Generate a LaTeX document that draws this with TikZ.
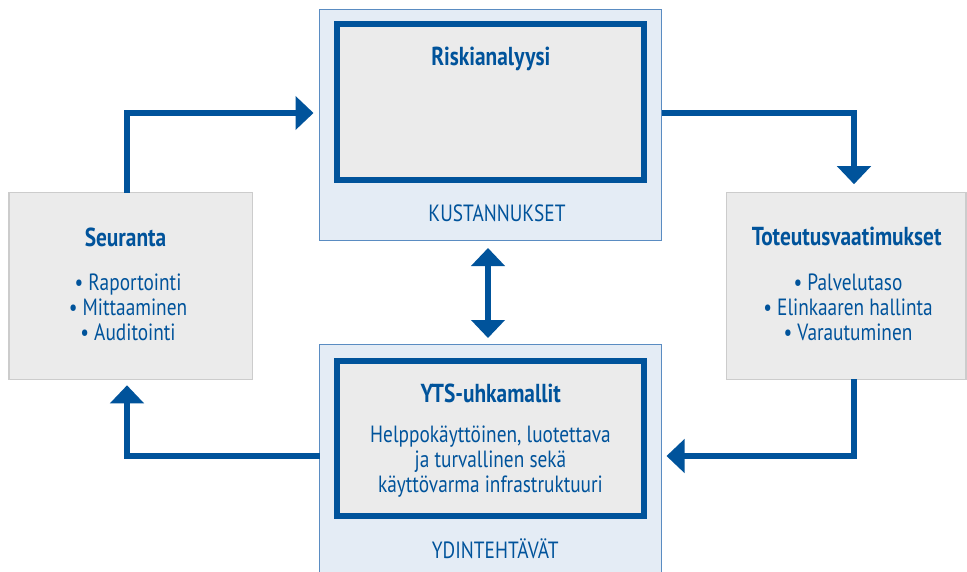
\documentclass[tikz,border=0pt]{standalone}
\usepackage{fontspec}
\setmainfont{PT Sans}[FakeStretch=0.822]
\usetikzlibrary{arrows.meta,calc}
\definecolor{dblue}{HTML}{00539B}
\definecolor{lblue}{HTML}{E4ECF5}
\definecolor{bblue}{HTML}{5A8CC2}
\definecolor{lgray}{HTML}{EBEBEB}
\definecolor{bgray}{HTML}{CCCCCC}
\begin{document}
\begin{tikzpicture}[x=1pt,y=-1pt,
  outerbox/.style={draw=bblue,fill=lblue,line width=1pt,inner sep=0pt,outer sep=0pt},
  innerbox/.style={draw=dblue,fill=lgray,line width=6pt,inner sep=0pt,outer sep=0pt},
  graybox/.style={draw=bgray,fill=lgray,line width=1.5pt,inner sep=0pt,outer sep=0pt},
  titletext/.style={text=dblue,font=\fontsize{26}{29}\selectfont\bfseries,inner sep=0pt},
  bodytext/.style={text=dblue,font=\fontsize{23.5}{24.8}\selectfont,align=center,inner sep=0pt},
  conn/.style={draw=dblue,line width=6pt,line join=miter,-{Triangle[width=33pt,length=18pt]}},
  dconn/.style={draw=dblue,line width=6pt,{Triangle[width=33pt,length=18pt]}-{Triangle[width=33pt,length=18pt]}}]
\useasboundingbox (0,0) rectangle (967,571);
\clip (0,0) rectangle (967,571);
\fill[white] (0,0) rectangle (967,571);
% boxes
\node[outerbox,minimum width=342pt,minimum height=231pt] (topout) at (490.5,125) {};
\node[innerbox,minimum width=307.5pt,minimum height=156.6pt] (topin) at (490.25,102) {};
\node[outerbox,minimum width=342pt,minimum height=255.5pt] (botout) at (490.5,472.25) {};
\node[innerbox,minimum width=307.5pt,minimum height=155.3pt] (botin) at (490.25,438.35) {};
\node[graybox,minimum width=243.7pt,minimum height=186.6pt] (left) at (130.85,286) {};
\node[graybox,minimum width=239.3pt,minimum height=186.6pt] (right) at (846.35,286) {};
% texts
\node[titletext] (t1) at (490.8,59) {Riskianalyysi};
\node[bodytext] (k1) at (497,213) {KUSTANNUKSET};
\node[titletext] (t2) at (490.8,393) {YTS-uhkamallit};
\node[bodytext] (b2) at (490.5,461.5) {Helppokäyttöinen, luotettava\\ja turvallinen sekä\\käyttövarma infrastruktuuri};
\node[bodytext] (k2) at (495.3,548.3) {YDINTEHTÄVÄT};
\node[titletext] (t3) at (125.5,237) {Seuranta};
\node[bodytext] (b3) at (128,307.3) {•\ Raportointi\\•\ Mittaaminen\\•\ Auditointi};
\node[titletext] (t4) at (846.7,236) {Toteutusvaatimukset};
\node[bodytext] (b4) at (848,307.5) {•\ Palvelutaso\\•\ Elinkaaren hallinta\\•\ Varautuminen};
% routing coordinates
\coordinate (c1) at (127,113);
\coordinate (c2) at (854,113);
\coordinate (c3) at (854,456);
\coordinate (c4) at (488,300);
% connectors
\draw[conn,shorten >=6pt] (left.north -| c1) |- (topout.west |- c1);
\draw[conn,shorten >=8.5pt] (topout.east |- c2) -| (right.north -| c2);
\draw[conn,shorten >=5pt] (right.south -| c3) |- (botout.east |- c3);
\draw[conn,shorten >=6pt] (botout.west |- c3) -| (left.south -| c1);
\draw[dconn,shorten >=6.5pt,shorten <=7.5pt] (topout.south -| c4) -- (botout.north -| c4);
\end{tikzpicture}
\end{document}
